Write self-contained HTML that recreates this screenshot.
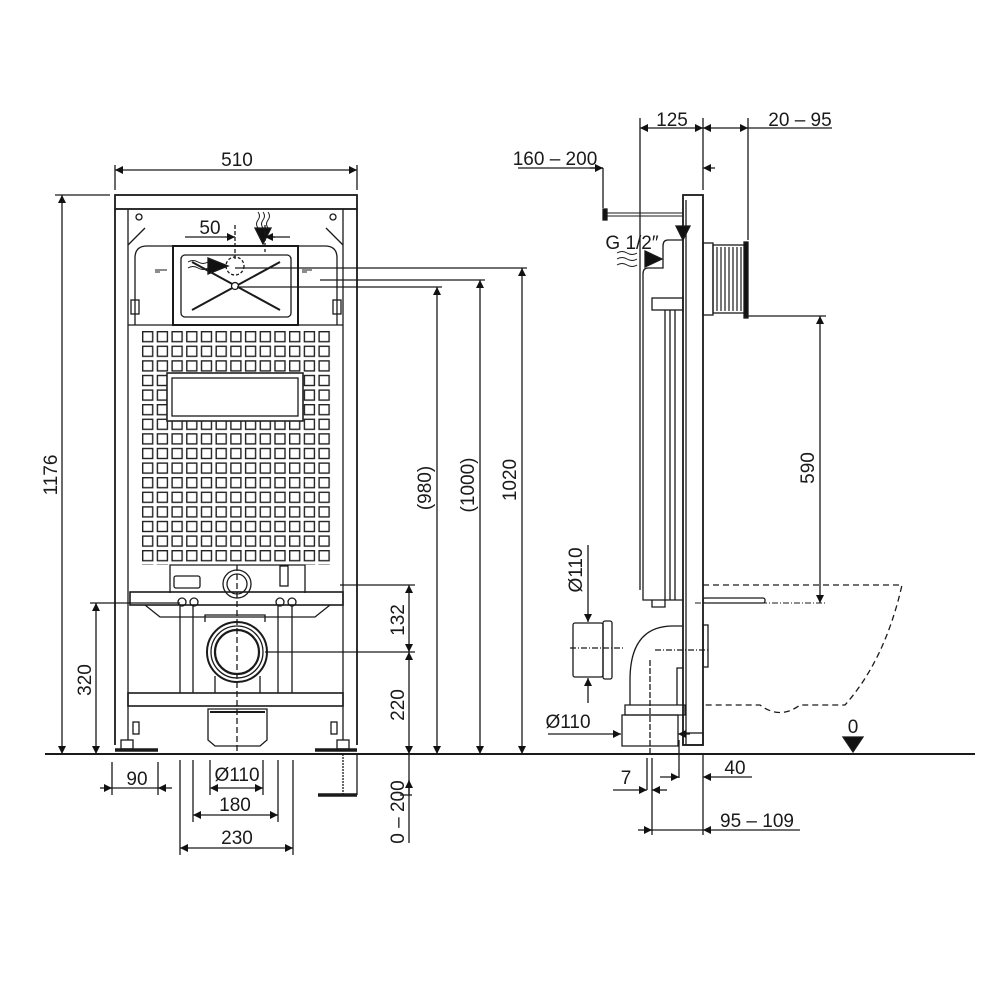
<!DOCTYPE html>
<html><head><style>
html,body{margin:0;padding:0;background:#fff}
svg{display:block}
text{font-family:"Liberation Sans Narrow","Liberation Sans",sans-serif;font-size:19px;fill:#1a1a1a}
</style></head><body>
<svg width="1000" height="1000" viewBox="0 0 1000 1000" xmlns="http://www.w3.org/2000/svg">
<defs>
<marker id="a" viewBox="0 0 10 10" refX="10" refY="5" markerWidth="12" markerHeight="8" markerUnits="userSpaceOnUse" orient="auto-start-reverse"><path d="M0,0L10,5L0,10z" fill="#111"/></marker>
<pattern id="g" x="142" y="331" width="14.7" height="14.6" patternUnits="userSpaceOnUse"><rect x="0.7" y="0.7" width="10" height="10" fill="none" stroke="#222" stroke-width="1.4"/></pattern>
</defs>
<g stroke="#1a1a1a" fill="none" stroke-width="1.3">
<!-- floor -->
<line x1="45" y1="754" x2="975" y2="754" stroke-width="2"/>
<!-- FRONT FRAME -->
<rect x="115" y="195" width="242" height="14" stroke-width="1.8"/>
<line x1="115" y1="209" x2="115" y2="745" stroke-width="1.8"/>
<line x1="128" y1="209" x2="128" y2="740"/>
<line x1="357" y1="209" x2="357" y2="745" stroke-width="1.8"/>
<line x1="343" y1="209" x2="343" y2="740"/>
<path d="M128,245 L145,228 M343,245 L326,228"/>
<circle cx="139" cy="217" r="3"/><circle cx="333" cy="217" r="3"/>
<!-- cistern outline -->
<path d="M135,325 L135,258 Q135,246 147,246 L325,246 Q337,246 337,258 L337,325"/>
<rect x="131" y="300" width="8" height="14"/><rect x="333" y="300" width="8" height="14"/>
<line x1="128" y1="325" x2="343" y2="325"/>
<rect x="173" y="246" width="125" height="79" stroke-width="2"/>
<rect x="181" y="255" width="110" height="62" rx="4"/>
<line x1="192" y1="310" x2="280" y2="262" stroke-width="2"/>
<line x1="192" y1="262" x2="280" y2="310" stroke-width="2"/>
<circle cx="235" cy="286" r="3.5" fill="#fff"/>
<circle cx="235" cy="266" r="9" stroke-dasharray="3,2"/>
<path d="M188,262 q5,-3 10,0 t10,0 M188,268 q5,-3 10,0 t10,0" stroke-width="1"/>
<path d="M208,258 L228,266 L208,274z" fill="#111"/>
<path d="M258,212 q3,4 0,8 t0,8 M263,212 q3,4 0,8 t0,8 M268,212 q3,4 0,8 t0,8" stroke-width="1"/>
<path d="M255,228 L271,228 L263,244z" fill="#111"/>
<line x1="235" y1="225" x2="235" y2="260" stroke-dasharray="4,2"/>
<line x1="265" y1="225" x2="265" y2="252" stroke-dasharray="4,2"/>
<path d="M155,270 h12 M155,272 h5 M302,270 h10 M302,272 h5" stroke-width="1"/>
<!-- grid -->
<rect x="142" y="331" width="191" height="234" fill="url(#g)" stroke="none"/>
<rect x="167" y="373" width="136" height="48" fill="#fff" stroke="#222" stroke-width="1.6"/>
<rect x="172" y="378" width="126" height="38" fill="#fff"/>
<!-- bottom front -->
<path d="M170,593 L170,565 L305,565 L305,593"/>
<rect x="174" y="576" width="26" height="12" rx="2"/>
<circle cx="237" cy="584" r="14"/><circle cx="237" cy="584" r="10"/>
<rect x="280" y="566" width="8" height="20"/>
<rect x="130" y="592" width="213" height="13" stroke-width="1.6"/>
<path d="M145,605 L160,617 L315,617 L330,605"/>
<circle cx="182" cy="602" r="4"/><circle cx="194" cy="602" r="4"/><circle cx="280" cy="602" r="4"/><circle cx="292" cy="602" r="4"/>
<line x1="180" y1="606" x2="180" y2="693"/><line x1="193" y1="606" x2="193" y2="693"/>
<line x1="278" y1="606" x2="278" y2="693"/><line x1="292" y1="606" x2="292" y2="693"/>
<path d="M205,622 L205,615 L265,615 L265,622"/>
<circle cx="237" cy="652" r="30" stroke-width="2"/><circle cx="237" cy="652" r="26"/><circle cx="237" cy="652" r="22" stroke-width="2.2"/>
<path d="M215,676 L215,693 M260,676 L260,693"/>
<rect x="128" y="693" width="215" height="13" stroke-width="1.6"/>
<path d="M208,709 L208,740 L215,746 L260,746 L267,740 L267,709z"/>
<line x1="210" y1="712" x2="265" y2="712" stroke-width="2"/>
<line x1="237" y1="565" x2="237" y2="752" stroke-dasharray="6,3"/>
<rect x="121" y="740" width="12" height="9"/><rect x="337" y="740" width="12" height="9"/>
<rect x="133" y="722" width="6" height="12"/><rect x="331" y="722" width="6" height="12"/>
<line x1="115" y1="750" x2="158" y2="750" stroke-width="3.5"/>
<line x1="315" y1="750" x2="357" y2="750" stroke-width="3.5"/>
<line x1="343" y1="754" x2="343" y2="795" stroke-dasharray="2,1"/><line x1="357" y1="754" x2="357" y2="795"/>
<line x1="318" y1="795" x2="357" y2="795" stroke-width="3.5"/>
<!-- front dims -->
<path d="M115,190 V165 M357,190 V165"/>
<line x1="115" y1="170" x2="357" y2="170" marker-start="url(#a)" marker-end="url(#a)"/>
<line x1="55" y1="195" x2="110" y2="195"/>
<line x1="62" y1="195" x2="62" y2="754" marker-start="url(#a)" marker-end="url(#a)"/>
<line x1="90" y1="603" x2="180" y2="603"/>
<line x1="96" y1="603" x2="96" y2="754" marker-start="url(#a)" marker-end="url(#a)"/>
<line x1="185" y1="237" x2="225" y2="237"/><line x1="268" y1="237" x2="290" y2="237"/>
<line x1="225" y1="237" x2="235" y2="237" marker-end="url(#a)"/>
<line x1="275" y1="237" x2="265" y2="237" marker-end="url(#a)"/>
<!-- right vertical dims -->
<line x1="235" y1="268" x2="527" y2="268"/>
<line x1="320" y1="280" x2="485" y2="280"/>
<line x1="237" y1="287" x2="442" y2="287"/>
<line x1="522" y1="268" x2="522" y2="754" marker-start="url(#a)" marker-end="url(#a)"/>
<line x1="480" y1="280" x2="480" y2="754" marker-start="url(#a)" marker-end="url(#a)"/>
<line x1="437" y1="287" x2="437" y2="754" marker-start="url(#a)" marker-end="url(#a)"/>
<line x1="340" y1="585" x2="415" y2="585"/>
<line x1="265" y1="652" x2="415" y2="652"/>
<line x1="409" y1="585" x2="409" y2="652" marker-start="url(#a)" marker-end="url(#a)"/>
<line x1="409" y1="652" x2="409" y2="754" marker-start="url(#a)" marker-end="url(#a)"/>
<line x1="409" y1="754" x2="409" y2="843"/>
<line x1="409" y1="795" x2="409" y2="780" marker-end="url(#a)"/>
<line x1="400" y1="795" x2="412" y2="795"/>
<!-- bottom dims -->
<path d="M112,762 V795 M158,762 V795 M180,760 V855 M193,760 V822 M210,760 V795 M263,760 V795 M278,760 V822 M293,760 V855"/>
<line x1="100" y1="788" x2="112" y2="788" marker-end="url(#a)"/><line x1="172" y1="788" x2="158" y2="788" marker-end="url(#a)"/><line x1="112" y1="788" x2="158" y2="788"/>
<line x1="210" y1="788" x2="263" y2="788" marker-start="url(#a)" marker-end="url(#a)"/>
<line x1="193" y1="815" x2="278" y2="815" marker-start="url(#a)" marker-end="url(#a)"/>
<line x1="180" y1="848" x2="293" y2="848" marker-start="url(#a)" marker-end="url(#a)"/>
<!-- SIDE VIEW -->
<rect x="683" y="195" width="20" height="550" stroke-width="1.8"/>
<rect x="683" y="733" width="20" height="12"/>
<line x1="686" y1="200" x2="686" y2="745"/>
<path d="M683,240 L668,240 Q663,240 663,246 L663,268 L648,268 Q643,268 643,274 L643,600 L683,600"/>
<line x1="640" y1="270" x2="640" y2="590"/>
<line x1="665" y1="310" x2="665" y2="600"/><line x1="670" y1="310" x2="670" y2="600"/><line x1="675" y1="310" x2="675" y2="600"/>
<rect x="652" y="298" width="31" height="12"/>
<path d="M652,600 L652,607 L665,607 L665,600"/>
<line x1="606" y1="213" x2="683" y2="213" stroke-width="1"/><line x1="606" y1="216" x2="683" y2="216" stroke-width="1"/>
<rect x="603" y="209" width="4" height="11" fill="#111"/>
<path d="M676,226 L690,226 L683,240z" fill="#111"/>
<path d="M617,253 q5,-3 10,0 t10,0 M617,259 q5,-3 10,0 t10,0 M617,265 q5,-3 10,0 t10,0" stroke-width="1"/>
<path d="M645,251 L662,259 L645,267z" fill="#111"/>
<rect x="703" y="243" width="10" height="72"/>
<rect x="713" y="245" width="32" height="68"/>
<path d="M717,247v64M721,247v64M725,247v64M729,247v64M733,247v64M737,247v64M741,247v64" stroke-width="1.2"/>
<rect x="744" y="242" width="4" height="76" fill="#111"/>
<!-- toilet dashed -->
<path d="M703,585 L902,585 Q885,660 845,705 L800,705 Q780,720 760,705 L703,705" stroke-dasharray="6,4"/>
<rect x="703" y="598" width="62" height="5" rx="2"/>
<line x1="695" y1="603" x2="825" y2="603" stroke-dasharray="6,2,1,2" stroke-width="1"/>
<rect x="703" y="625" width="5" height="42"/>
<!-- elbow -->
<path d="M683,626 L673,626 Q630,626 630,680 L630,705 M683,668 L677,668 L677,705"/>
<path d="M625,705 L685,705 L685,715 L625,715z"/>
<path d="M622,715 L678,715 L678,746 L622,746z"/>
<line x1="650" y1="660" x2="650" y2="755" stroke-dasharray="6,2"/>
<line x1="655" y1="650" x2="710" y2="650" stroke-dasharray="6,2,1,2"/>
<rect x="573" y="623" width="30" height="54" rx="2"/><rect x="603" y="621" width="9" height="58" rx="2"/>
<line x1="570" y1="648" x2="624" y2="648" stroke-dasharray="6,2,1,2"/>
<line x1="588" y1="545" x2="588" y2="622" marker-end="url(#a)"/>
<line x1="588" y1="703" x2="588" y2="678" marker-end="url(#a)"/>
<line x1="548" y1="734" x2="621" y2="734" marker-end="url(#a)"/>
<line x1="690" y1="734" x2="678" y2="734" marker-end="url(#a)"/>
<!-- side dims -->
<path d="M640,118 V270 M703,118 V190 M748,118 V240 M603,168 V208"/>
<line x1="640" y1="128" x2="703" y2="128" marker-start="url(#a)" marker-end="url(#a)"/>
<line x1="703" y1="128" x2="748" y2="128" marker-start="url(#a)" marker-end="url(#a)"/>
<line x1="748" y1="128" x2="832" y2="128"/>
<line x1="518" y1="168" x2="603" y2="168"/>
<line x1="590" y1="168" x2="603" y2="168" marker-end="url(#a)"/>
<line x1="715" y1="168" x2="703" y2="168" marker-end="url(#a)"/>
<line x1="748" y1="316" x2="826" y2="316"/>
<line x1="820" y1="316" x2="820" y2="603" marker-start="url(#a)" marker-end="url(#a)"/>
<path d="M647,758 V790 M652,758 V835 M679,740 V778 M703,755 V835"/>
<line x1="613" y1="790" x2="647" y2="790" marker-end="url(#a)"/><line x1="667" y1="790" x2="652" y2="790" marker-end="url(#a)"/>
<line x1="660" y1="777" x2="679" y2="777" marker-end="url(#a)"/><line x1="752" y1="777" x2="703" y2="777" marker-end="url(#a)"/>
<line x1="638" y1="830" x2="652" y2="830" marker-end="url(#a)"/><line x1="800" y1="830" x2="703" y2="830" marker-end="url(#a)"/><line x1="652" y1="830" x2="703" y2="830"/>
<path d="M843,737 L863,737 L853,752z" fill="#111"/>
</g>
<!-- labels -->
<text x="237" y="166" text-anchor="middle">510</text>
<text x="210" y="234" text-anchor="middle">50</text>
<text x="137" y="785" text-anchor="middle">90</text>
<text x="237" y="781" text-anchor="middle">Ø110</text>
<text x="235" y="811" text-anchor="middle">180</text>
<text x="237" y="844" text-anchor="middle">230</text>
<text transform="translate(57,475) rotate(-90)" text-anchor="middle">1176</text>
<text transform="translate(91,680) rotate(-90)" text-anchor="middle">320</text>
<text transform="translate(404,620) rotate(-90)" text-anchor="middle">132</text>
<text transform="translate(404,705) rotate(-90)" text-anchor="middle">220</text>
<text transform="translate(404,812) rotate(-90)" text-anchor="middle">0 – 200</text>
<text transform="translate(431,488) rotate(-90)" text-anchor="middle">(980)</text>
<text transform="translate(474,485) rotate(-90)" text-anchor="middle">(1000)</text>
<text transform="translate(516,480) rotate(-90)" text-anchor="middle">1020</text>
<text x="672" y="126" text-anchor="middle">125</text>
<text x="800" y="126" text-anchor="middle">20 – 95</text>
<text x="555" y="165" text-anchor="middle">160 – 200</text>
<text x="632" y="249" text-anchor="middle">G 1/2″</text>
<text transform="translate(814,468) rotate(-90)" text-anchor="middle">590</text>
<text transform="translate(582,570) rotate(-90)" text-anchor="middle">Ø110</text>
<text x="568" y="728" text-anchor="middle">Ø110</text>
<text x="626" y="784" text-anchor="middle">7</text>
<text x="735" y="774" text-anchor="middle">40</text>
<text x="757" y="827" text-anchor="middle">95 – 109</text>
<text x="853" y="733" text-anchor="middle">0</text>
</svg>
</body></html>
